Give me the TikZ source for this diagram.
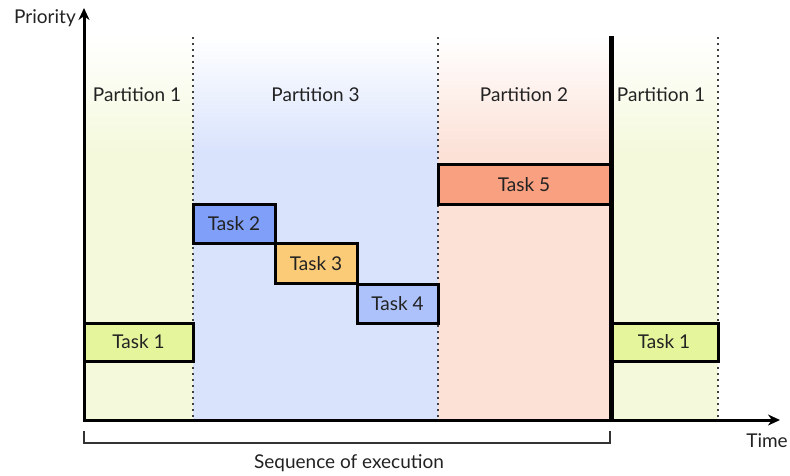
\documentclass[tikz,border=0pt]{standalone}
\usepackage{fontspec}
\setmainfont{Lato}
\usetikzlibrary{arrows.meta}
\definecolor{bgA}{HTML}{F4F9DC}
\definecolor{bgC}{HTML}{D9E3FC}
\definecolor{bgB}{HTML}{FCE1D7}
\definecolor{tkA}{HTML}{E5F59C}
\definecolor{tkB}{HTML}{809FF8}
\definecolor{tkC}{HTML}{FBCB78}
\definecolor{tkD}{HTML}{ADC2FB}
\definecolor{tkE}{HTML}{F8A07F}
\definecolor{ink}{HTML}{222222}
\begin{document}
\begin{tikzpicture}[x=1pt,y=-1pt,
  lbl/.style={text=ink,font=\fontsize{19}{22}\selectfont,inner sep=0pt},
  task/.style={draw=black,line width=3pt,text=ink,inner sep=0pt,
    font=\fontsize{19}{22}\selectfont},
  sep/.style={draw=black!75,line width=2.2pt,dash pattern=on 2.2pt off 3.8pt},
  axis/.style={draw=black,line width=3pt,-{Stealth[length=12pt,width=11pt]}}]
\useasboundingbox (0,0) rectangle (790,475);
% partition backgrounds: a fade from white at the top, then solid colour
\foreach \xa/\xb/\col in {84/193/bgA,193/438/bgC,438/610/bgB,610/718/bgA}{
  \shade[top color=white,bottom color=\col] (\xa,36) rectangle (\xb,152);
  \fill[\col] (\xa,151.5) rectangle (\xb,419);
}
% partition separators
\foreach \xx in {193,438,718}{
  \draw[sep] (\xx,37) -- (\xx,418);
}
% partition names
\node[lbl] (p1) at (137,95) {Partition 1};
\node[lbl] (p3) at (315.5,95) {Partition 3};
\node[lbl] (p2) at (524,95) {Partition 2};
\node[lbl] (p1b) at (661,95) {Partition 1};
% tasks
\node[task,fill=tkA,minimum width=109pt,minimum height=38pt] (t1) at (138.5,342) {Task 1};
\node[task,fill=tkB,minimum width=82pt,minimum height=39pt] (t2) at (234,224) {Task 2};
\node[task,fill=tkC,minimum width=82pt,minimum height=40pt] (t3) at (316,263.5) {Task 3};
\node[task,fill=tkD,minimum width=81pt,minimum height=39pt] (t4) at (397.5,303.5) {Task 4};
\node[task,fill=tkE,minimum width=172pt,minimum height=40pt] (t5) at (524,184.5) {Task 5};
\node[task,fill=tkA,minimum width=108pt,minimum height=38pt] (t1b) at (664,342) {Task 1};
% partition switch boundary
\coordinate (swtop) at (611,36);
\coordinate (swbot) at (611,420);
\draw[line width=5pt] (swtop) -- (swbot);
% axes
\coordinate (o) at (84,420);
\coordinate (ytip) at (84,8);
\coordinate (xtip) at (780,420);
\draw[axis] ([yshift=1.5pt]o) -- (ytip);
\draw[axis] ([xshift=-1.5pt]o) -- (xtip);
\node[lbl,anchor=east] (ylab) at (76,18) {Priority};
\node[lbl] (xlab) at (767,441) {Time};
% bracket under the executed sequence
\coordinate (bl) at (84,431);
\coordinate (br) at (610,431);
\draw[black!80,line width=1.2pt] (bl) -- ++(0,12) -| (br);
\node[lbl] (seq) at (349,463) {Sequence of execution};
\end{tikzpicture}
\end{document}
